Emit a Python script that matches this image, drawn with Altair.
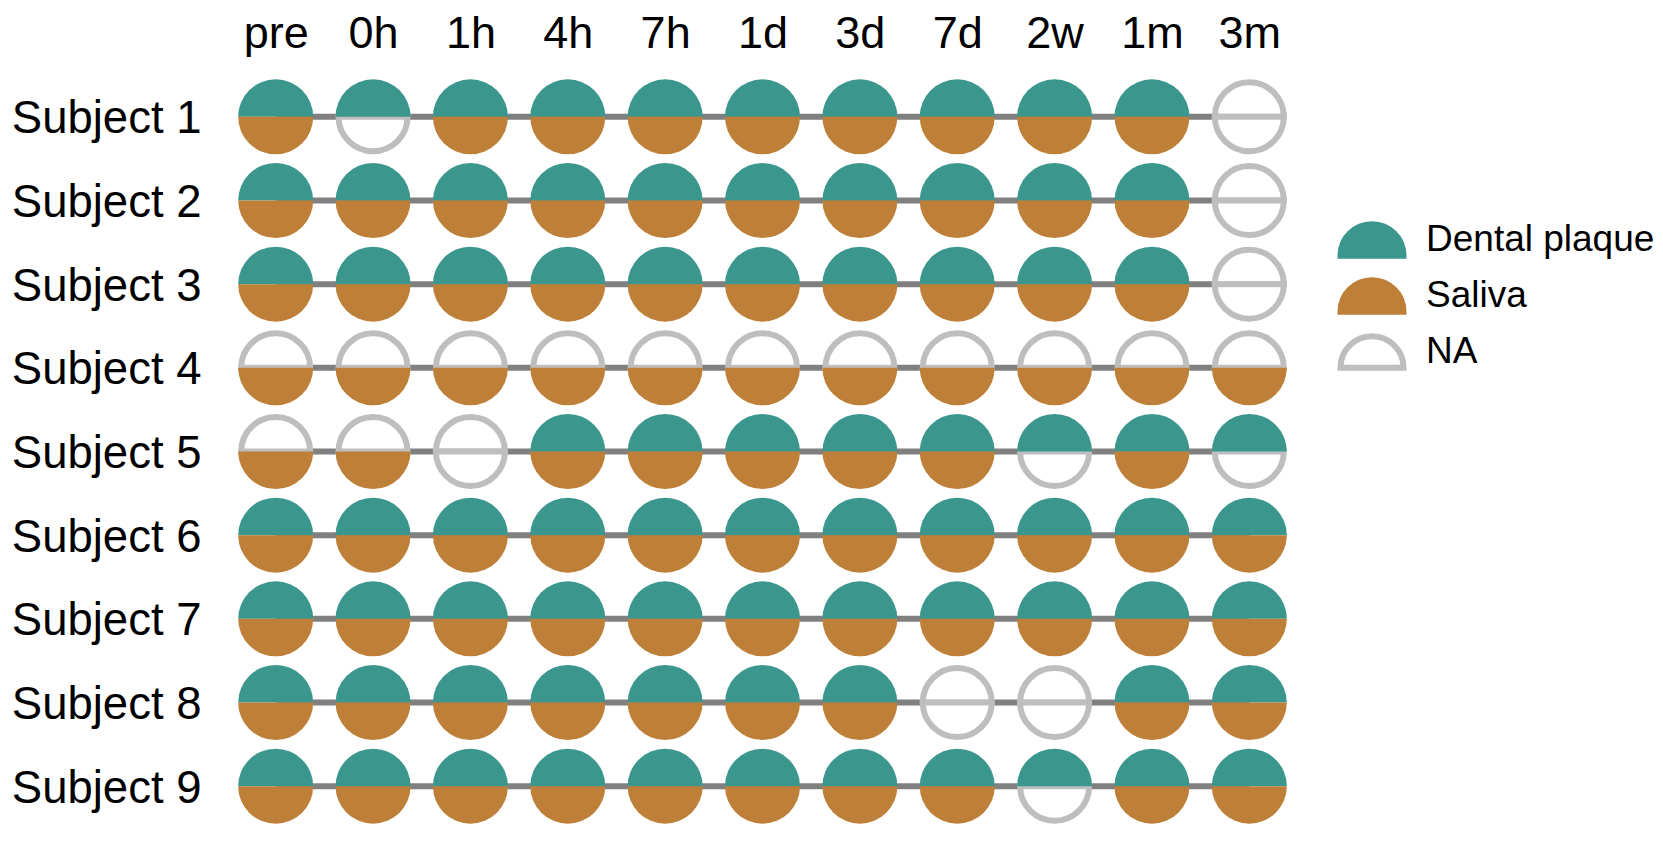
import altair as alt
import pandas as pd

subjects = [f"Subject {i}" for i in range(1, 10)]
timepoints = ["pre", "0h", "1h", "4h", "7h", "1d", "3d", "7d", "2w", "1m", "3m"]

# 1 = sample collected, 0 = NA
plaque = [
    [1, 1, 1, 1, 1, 1, 1, 1, 1, 1, 0],
    [1, 1, 1, 1, 1, 1, 1, 1, 1, 1, 0],
    [1, 1, 1, 1, 1, 1, 1, 1, 1, 1, 0],
    [0, 0, 0, 0, 0, 0, 0, 0, 0, 0, 0],
    [0, 0, 0, 1, 1, 1, 1, 1, 1, 1, 1],
    [1, 1, 1, 1, 1, 1, 1, 1, 1, 1, 1],
    [1, 1, 1, 1, 1, 1, 1, 1, 1, 1, 1],
    [1, 1, 1, 1, 1, 1, 1, 0, 0, 1, 1],
    [1, 1, 1, 1, 1, 1, 1, 1, 1, 1, 1],
]
saliva = [
    [1, 0, 1, 1, 1, 1, 1, 1, 1, 1, 0],
    [1, 1, 1, 1, 1, 1, 1, 1, 1, 1, 0],
    [1, 1, 1, 1, 1, 1, 1, 1, 1, 1, 0],
    [1, 1, 1, 1, 1, 1, 1, 1, 1, 1, 1],
    [1, 1, 0, 1, 1, 1, 1, 1, 0, 1, 0],
    [1, 1, 1, 1, 1, 1, 1, 1, 1, 1, 1],
    [1, 1, 1, 1, 1, 1, 1, 1, 1, 1, 1],
    [1, 1, 1, 1, 1, 1, 1, 0, 0, 1, 1],
    [1, 1, 1, 1, 1, 1, 1, 1, 0, 1, 1],
]

sample_types = ["Dental plaque", "Saliva", "NA"]
fill_colors = ["#3B978D", "#BE8038", "#FFFFFF"]
stroke_colors = ["#3B978D", "#BE8038", "#BEBEBE"]

rows = []
for si, s in enumerate(subjects):
    for ti, t in enumerate(timepoints):
        rows.append(dict(subject=s, time=t, ti=ti, half="top",
                         kind="Dental plaque" if plaque[si][ti] else "NA"))
        rows.append(dict(subject=s, time=t, ti=ti, half="bottom",
                         kind="Saliva" if saliva[si][ti] else "NA"))
df = pd.DataFrame(rows)

FONT = "Liberation Sans"

x_enc = alt.X("time:N", sort=timepoints,
              scale=alt.Scale(type="point", padding=0.5),
              axis=alt.Axis(orient="top", title=None, labelAngle=0, ticks=False,
                            domain=False, grid=False, labelFontSize=45,
                            labelFont=FONT, labelColor="black", labelPadding=19,
                            labelLimit=0))
y_enc = alt.Y("subject:N", sort=subjects,
              scale=alt.Scale(type="point", padding=0.5),
              axis=alt.Axis(title=None, ticks=False, domain=False, grid=False,
                            labelFontSize=45.5, labelFont=FONT, labelColor="black",
                            labelPadding=26, labelLimit=0, labelOffset=2))

legend = alt.Legend(title=None, orient="none", legendX=1126, legendY=146,
                    symbolType="M -2 1 A 2 2 0 0 1 2 1 Z", symbolSize=992,
                    symbolStrokeWidth=6, labelFontSize=37, labelFont=FONT,
                    labelColor="black", labelOffset=35, rowPadding=0, labelLimit=0)

base = alt.Chart(df).encode(
    x=x_enc,
    y=y_enc,
    fill=alt.Fill("kind:N", scale=alt.Scale(domain=sample_types, range=fill_colors),
                  legend=legend),
    stroke=alt.Stroke("kind:N", scale=alt.Scale(domain=sample_types, range=stroke_colors),
                      legend=legend),
    strokeWidth=alt.condition("datum.kind === 'NA'", alt.value(6), alt.value(0)),
)

TOP = (4.71238898, 7.85398163)
BOTTOM = (1.57079633, 4.71238898)


def arc_layer(half, na):
    th = TOP if half == "top" else BOTTOM
    cond = "datum.kind === 'NA'" if na else "datum.kind !== 'NA'"
    return (base.transform_filter(f"datum.half === '{half}'")
            .transform_filter(cond)
            .mark_arc(theta=th[0], theta2=th[1], outerRadius=34.5 if na else 37.5))


lines = (alt.Chart(df).transform_filter("datum.half === 'top'")
         .mark_line(color="#808080", strokeWidth=6, strokeCap="butt")
         .encode(x=x_enc, y=y_enc, detail="subject:N", order="ti:Q"))

chart = alt.layer(
    lines,
    arc_layer("top", True),
    arc_layer("bottom", True),
    arc_layer("top", False),
    arc_layer("bottom", False),
).properties(
    width=1071, height=753,
    autosize=alt.AutoSizeParams(type="none"),
    padding={"left": 227, "top": 75, "right": 365, "bottom": 16},
    background="white",
).configure_view(stroke=None)

chart.save("out.html", embed_options={"renderer": "svg", "actions": False})
